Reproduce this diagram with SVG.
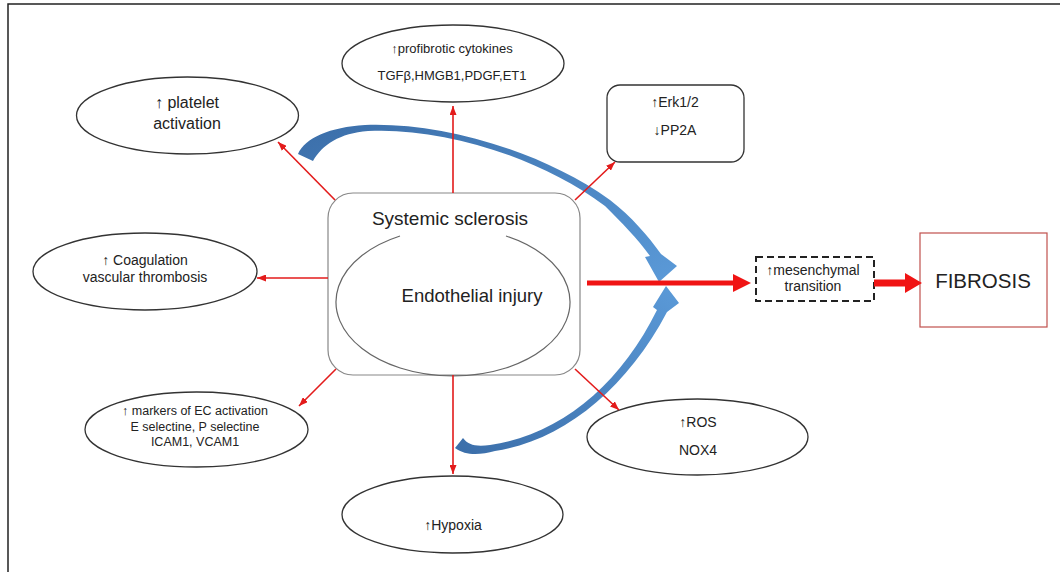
<svg xmlns="http://www.w3.org/2000/svg" width="1060" height="572" viewBox="0 0 1060 572">
<style>
text{font-family:"Liberation Sans",Arial,sans-serif;fill:#222;text-anchor:middle}
.oval{fill:#fff;stroke:#333;stroke-width:1.3}
.thin{stroke:#e31b1b;stroke-width:1.6;fill:none;marker-end:url(#ah)}
</style>
<defs>
<marker id="ah" markerUnits="userSpaceOnUse" markerWidth="9" markerHeight="7" refX="9" refY="3.5" orient="auto"><path d="M0,0 L9,3.5 L0,7 z" fill="#e31b1b"/></marker>
<linearGradient id="bu" x1="0" y1="0" x2="1" y2="1"><stop offset="0" stop-color="#3b6ea9"/><stop offset="1" stop-color="#5b9ad8"/></linearGradient>
<linearGradient id="bl" x1="0" y1="1" x2="1" y2="0"><stop offset="0" stop-color="#3b6ea9"/><stop offset="1" stop-color="#5b9ad8"/></linearGradient>
</defs>
<rect x="8" y="4" width="1080" height="600" fill="#fff" stroke="#222" stroke-width="1.5"/>

<g id="ssc">
<rect x="328" y="193" width="252" height="182" rx="25" fill="#fff" stroke="#888" stroke-width="1.2"/>
<path d="M506,236 A117,74 0 1 1 400,236" fill="none" stroke="#666" stroke-width="1.2"/>
<text x="450" y="225" font-size="19">Systemic sclerosis</text>
<text x="472" y="302" font-size="18.5">Endothelial injury</text>
</g>

<g id="platelet">
<ellipse class="oval" cx="187.5" cy="115.5" rx="111" ry="38.5"/>
<text x="187" y="108" font-size="16">↑ platelet</text>
<text x="187" y="129" font-size="16">activation</text>
</g>
<g id="cytokines">
<ellipse class="oval" cx="453" cy="63.5" rx="111" ry="38.5"/>
<text x="452" y="53" font-size="13">↑profibrotic cytokines</text>
<text x="452" y="80" font-size="13">TGFβ,HMGB1,PDGF,ET1</text>
</g>
<g id="erk">
<rect x="607" y="85" width="137" height="77" rx="13" fill="#fff" stroke="#333" stroke-width="1.3"/>
<text x="675" y="107" font-size="14">↑Erk1/2</text>
<text x="675" y="135" font-size="14">↓PP2A</text>
</g>
<g id="coagulation">
<ellipse class="oval" cx="145" cy="271.5" rx="112" ry="38.5"/>
<text x="145" y="265" font-size="14">↑ Coagulation</text>
<text x="145" y="282" font-size="14">vascular thrombosis</text>
</g>
<g id="markers">
<ellipse class="oval" cx="196.5" cy="429.5" rx="111.5" ry="37.5"/>
<text x="195" y="415" font-size="12.5">↑ markers of EC activation</text>
<text x="195" y="431" font-size="12.5">E selectine, P selectine</text>
<text x="195" y="446" font-size="12.5">ICAM1, VCAM1</text>
</g>
<g id="hypoxia">
<ellipse class="oval" cx="452.5" cy="514.5" rx="110.5" ry="38.5"/>
<text x="453" y="530" font-size="14">↑Hypoxia</text>
</g>
<g id="ros">
<ellipse class="oval" cx="697.5" cy="437" rx="110.5" ry="38"/>
<text x="698" y="427" font-size="14">↑ROS</text>
<text x="698" y="455" font-size="14">NOX4</text>
</g>
<g id="mesenchymal">
<rect x="756" y="257" width="118" height="44" fill="#fff" stroke="#222" stroke-width="2" stroke-dasharray="7,4"/>
<text x="813" y="275" font-size="14">↑mesenchymal</text>
<text x="813" y="291" font-size="14">transition</text>
</g>
<g id="fibrosis">
<rect x="920" y="233" width="127" height="94" fill="#fff" stroke="#c0504d" stroke-width="1.2"/>
<text x="983" y="288" font-size="20.5">FIBROSIS</text>
</g>

<g id="connectors">
<path d="M298,154 C305,138 330,127 365,125 C440,122 540,150 610,200 C632,217 648,236 661,254 L677,266 L659,282 L645,257 L650,256 C637,238 622,223 605,206 C538,156 440,127 368,131 C340,133 322,145 313,161 Z" fill="url(#bu)"/>
<path d="M455,448 L463,438 C468,445 476,447 490,445 C560,435 620,385 657,310 L653,307 L666,286 L679,303 L667,312 C626,390 562,441 495,451 C480,455 466,456 455,448 Z" fill="url(#bl)"/>
<line class="thin" x1="335" y1="200" x2="278" y2="142"/>
<line class="thin" x1="453" y1="193" x2="453" y2="106"/>
<line class="thin" x1="575" y1="200" x2="615" y2="162"/>
<line class="thin" x1="328" y1="278" x2="257" y2="278"/>
<line class="thin" x1="336" y1="369" x2="299" y2="406"/>
<line class="thin" x1="453" y1="375" x2="453" y2="474"/>
<line class="thin" x1="575" y1="369" x2="619" y2="410"/>
<line x1="587" y1="283" x2="736" y2="283" stroke="#f01414" stroke-width="5"/>
<polygon points="733,274 751,283 733,292" fill="#f01414"/>
<line x1="874" y1="283" x2="908" y2="283" stroke="#f01414" stroke-width="7"/>
<polygon points="905,273 922,283 905,293" fill="#f01414"/>
</g>
</svg>
